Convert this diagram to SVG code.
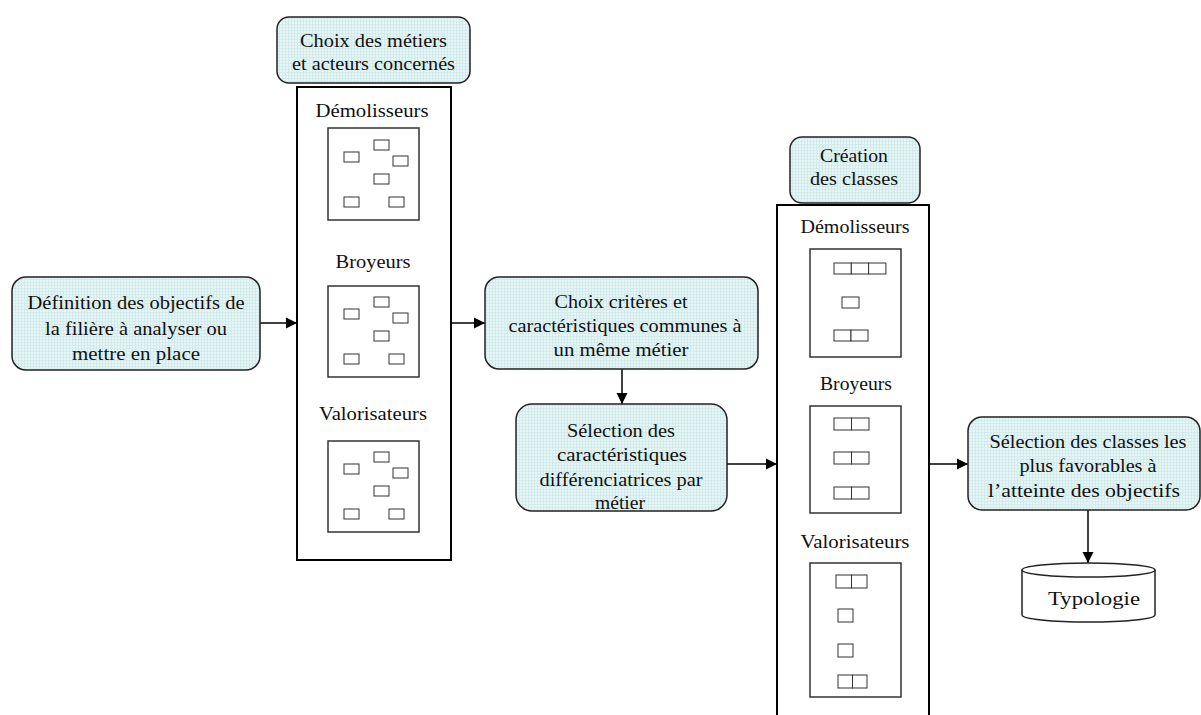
<svg xmlns="http://www.w3.org/2000/svg" width="1201" height="715" viewBox="0 0 1201 715">
<defs>
<pattern id="grid" width="3" height="3" patternUnits="userSpaceOnUse">
<rect width="3" height="3" fill="#e6f5f5"/>
<path d="M0,0.5H3M0.5,0V3" stroke="#d3ebeb" stroke-width="1"/>
</pattern>
<marker id="ah" markerWidth="12" markerHeight="12" refX="11" refY="6" orient="auto" markerUnits="userSpaceOnUse">
<path d="M0,0.5 L11,6 L0,11.5 z" fill="#000"/>
</marker>
<style>
.rb{fill:url(#grid);stroke:#222;stroke-width:1.5}
.big{fill:#fff;stroke:#000;stroke-width:2}
.in{fill:#fff;stroke:#333;stroke-width:1.5}
.sm{fill:#fff;stroke:#333;stroke-width:1}
.t{font-family:"Liberation Serif","Times New Roman",serif;font-size:19px;fill:#111;text-anchor:middle}
.c{stroke:#000;stroke-width:1.5;fill:none;marker-end:url(#ah)}
</style>
</defs>
<rect width="1201" height="715" fill="#fff"/>

<g id="connectors">
<line class="c" x1="260" y1="323" x2="297" y2="323"/>
<line class="c" x1="451" y1="323" x2="485" y2="323"/>
<line class="c" x1="622" y1="369" x2="622" y2="404"/>
<line class="c" x1="727" y1="464" x2="777" y2="464"/>
<line class="c" x1="929" y1="464" x2="968" y2="464"/>
<line class="c" x1="1088" y1="510" x2="1088" y2="563"/>
</g>

<g id="n-definition">
<rect class="rb" x="12" y="277" width="248" height="93" rx="14"/>
<text class="t" x="136" y="309" textLength="217" lengthAdjust="spacingAndGlyphs">Définition des objectifs de</text>
<text class="t" x="136" y="335" textLength="182" lengthAdjust="spacingAndGlyphs">la filière à analyser ou</text>
<text class="t" x="136" y="360" textLength="128" lengthAdjust="spacingAndGlyphs">mettre en place</text>
</g>

<g id="n-choix-metiers">
<rect class="rb" x="277" y="17" width="193" height="66" rx="12"/>
<text class="t" x="373.5" y="47" textLength="147" lengthAdjust="spacingAndGlyphs">Choix des métiers</text>
<text class="t" x="373.5" y="70" textLength="163" lengthAdjust="spacingAndGlyphs">et acteurs concernés</text>
</g>

<g id="n-acteurs">
<rect class="big" x="297" y="87" width="154" height="473"/>
<text class="t" x="372" y="117" textLength="113" lengthAdjust="spacingAndGlyphs">Démolisseurs</text>
<rect class="in" x="328" y="128" width="91" height="92"/>
<rect class="sm" x="344" y="152" width="15" height="10"/>
<rect class="sm" x="374" y="140" width="15" height="10"/>
<rect class="sm" x="393" y="156" width="15" height="10"/>
<rect class="sm" x="374" y="174" width="15" height="10"/>
<rect class="sm" x="344" y="197" width="15" height="10"/>
<rect class="sm" x="389" y="197" width="15" height="10"/>
<text class="t" x="373" y="268" textLength="75" lengthAdjust="spacingAndGlyphs">Broyeurs</text>
<rect class="in" x="328" y="286" width="91" height="91"/>
<rect class="sm" x="344" y="309" width="15" height="10"/>
<rect class="sm" x="374" y="297" width="15" height="10"/>
<rect class="sm" x="393" y="313" width="15" height="10"/>
<rect class="sm" x="374" y="331" width="15" height="10"/>
<rect class="sm" x="344" y="354" width="15" height="10"/>
<rect class="sm" x="389" y="354" width="15" height="10"/>
<text class="t" x="373" y="420" textLength="108" lengthAdjust="spacingAndGlyphs">Valorisateurs</text>
<rect class="in" x="328" y="441" width="91" height="91"/>
<rect class="sm" x="344" y="464" width="15" height="10"/>
<rect class="sm" x="374" y="452" width="15" height="10"/>
<rect class="sm" x="393" y="468" width="15" height="10"/>
<rect class="sm" x="374" y="486" width="15" height="10"/>
<rect class="sm" x="344" y="509" width="15" height="10"/>
<rect class="sm" x="389" y="509" width="15" height="10"/>
</g>

<g id="n-choix-criteres">
<rect class="rb" x="485" y="277" width="273" height="92" rx="14"/>
<text class="t" x="621" y="308" textLength="133" lengthAdjust="spacingAndGlyphs">Choix critères et</text>
<text class="t" x="625" y="332" textLength="233" lengthAdjust="spacingAndGlyphs">caractéristiques  communes à</text>
<text class="t" x="621" y="356" textLength="135" lengthAdjust="spacingAndGlyphs">un même métier</text>
</g>

<g id="n-selection-carac">
<rect class="rb" x="516" y="404" width="211" height="107" rx="16"/>
<text class="t" x="621" y="437" textLength="108" lengthAdjust="spacingAndGlyphs">Sélection des</text>
<text class="t" x="622" y="461" textLength="130" lengthAdjust="spacingAndGlyphs">caractéristiques</text>
<text class="t" x="621" y="486" textLength="163" lengthAdjust="spacingAndGlyphs">différenciatrices par</text>
<text class="t" x="620" y="509" textLength="50" lengthAdjust="spacingAndGlyphs">métier</text>
</g>

<g id="n-creation">
<rect class="rb" x="790" y="137" width="130" height="66" rx="12"/>
<text class="t" x="854" y="162" textLength="68" lengthAdjust="spacingAndGlyphs">Création</text>
<text class="t" x="854" y="185" textLength="88" lengthAdjust="spacingAndGlyphs">des classes</text>
</g>

<g id="n-classes">
<rect class="big" x="777" y="205" width="152" height="530"/>
<text class="t" x="855" y="233" textLength="109" lengthAdjust="spacingAndGlyphs">Démolisseurs</text>
<rect class="in" x="810" y="249" width="91" height="108"/>
<rect class="sm" x="834" y="263" width="17.3" height="11"/>
<rect class="sm" x="851.3" y="263" width="17.3" height="11"/>
<rect class="sm" x="868.6" y="263" width="17.3" height="11"/>
<rect class="sm" x="842" y="297" width="17" height="11"/>
<rect class="sm" x="834" y="330" width="17" height="11"/>
<rect class="sm" x="851" y="330" width="17" height="11"/>
<text class="t" x="856" y="390" textLength="72" lengthAdjust="spacingAndGlyphs">Broyeurs</text>
<rect class="in" x="810" y="406" width="91" height="107"/>
<rect class="sm" x="834" y="418" width="17.5" height="12"/>
<rect class="sm" x="851.5" y="418" width="17.5" height="12"/>
<rect class="sm" x="834" y="452" width="17.5" height="12"/>
<rect class="sm" x="851.5" y="452" width="17.5" height="12"/>
<rect class="sm" x="834" y="487" width="17.5" height="12"/>
<rect class="sm" x="851.5" y="487" width="17.5" height="12"/>
<text class="t" x="855" y="548" textLength="109" lengthAdjust="spacingAndGlyphs">Valorisateurs</text>
<rect class="in" x="810" y="563" width="91" height="134"/>
<rect class="sm" x="836" y="575" width="15.5" height="13"/>
<rect class="sm" x="851.5" y="575" width="15.5" height="13"/>
<rect class="sm" x="838" y="609" width="15" height="13"/>
<rect class="sm" x="838" y="644" width="15" height="13"/>
<rect class="sm" x="838" y="675" width="14.5" height="13"/>
<rect class="sm" x="852.5" y="675" width="14.5" height="13"/>
</g>

<g id="n-selection-classes">
<rect class="rb" x="968" y="417" width="232" height="93" rx="14"/>
<text class="t" x="1088" y="448" textLength="197" lengthAdjust="spacingAndGlyphs">Sélection des classes les</text>
<text class="t" x="1088" y="472" textLength="137" lengthAdjust="spacingAndGlyphs">plus favorables à</text>
<text class="t" x="1084" y="497" textLength="192" lengthAdjust="spacingAndGlyphs">l’atteinte des objectifs</text>
</g>

<g id="n-typologie">
<path d="M1022,570 A66.5,7 0 0 1 1155,570 V615 A66.5,7 0 0 1 1022,615 Z" fill="#fff" stroke="#222" stroke-width="1.5"/>
<path d="M1022,570 A66.5,7 0 0 0 1155,570" fill="none" stroke="#222" stroke-width="1.5"/>
<text class="t" x="1094" y="605" textLength="92" lengthAdjust="spacingAndGlyphs">Typologie</text>
</g>
</svg>
